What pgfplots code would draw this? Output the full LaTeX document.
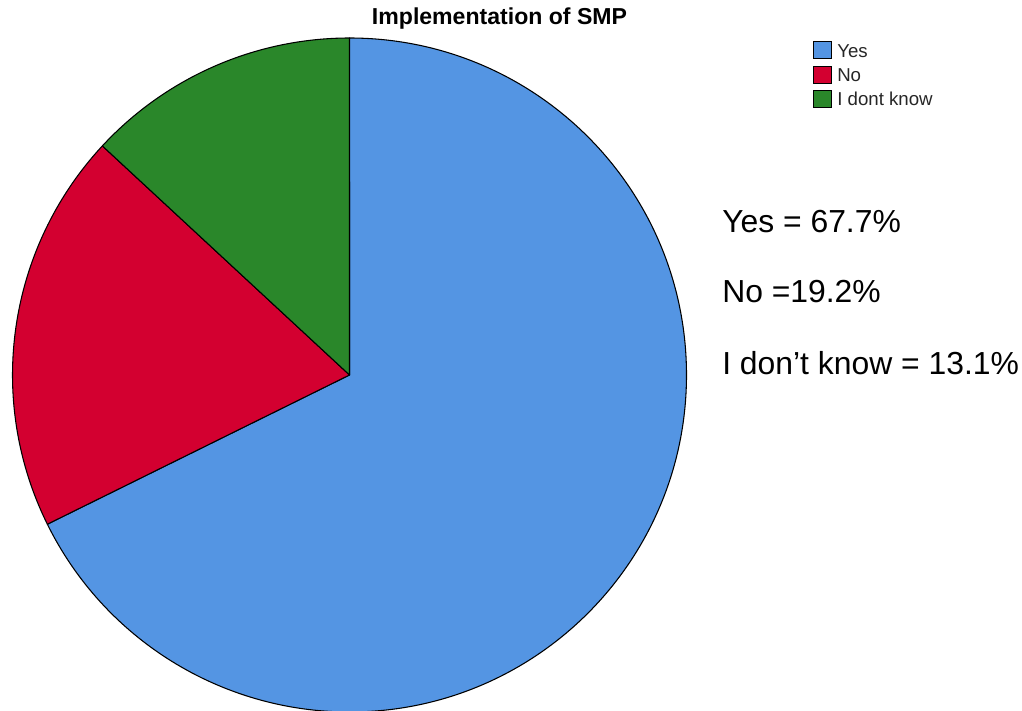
\documentclass[border=0pt]{standalone}
\usepackage{pgfplots}
\pgfplotsset{compat=1.18}
\usepackage{pgfplotstable}
\usepackage{fontspec}
\setmainfont{Liberation Sans}
\definecolor{cyes}{RGB}{84,149,227}
\definecolor{cno}{RGB}{211,0,48}
\definecolor{cidk}{RGB}{42,135,42}
\pgfplotstableread{
label value
Yes 67.7
No 19.2
Idk 13.1
}\piedata
\pgfplotstablegetelem{0}{value}\of\piedata \let\vA\pgfplotsretval
\pgfplotstablegetelem{1}{value}\of\piedata \let\vB\pgfplotsretval
\pgfplotstablegetelem{2}{value}\of\piedata \let\vC\pgfplotsretval
\pgfmathsetmacro\tot{\vA+\vB+\vC}
\pgfmathsetmacro\aA{90-\vA/\tot*360}
\pgfmathsetmacro\aB{\aA-\vB/\tot*360}
\pgfmathsetmacro\aC{\aB-\vC/\tot*360}
\begin{document}
\begin{tikzpicture}
\useasboundingbox (0,0) rectangle (766.5pt,533.25pt);
\begin{axis}[
  scale only axis, width=766.5pt, height=533.25pt,
  xmin=0, xmax=1022, ymin=0, ymax=711,
  hide axis, clip=false, anchor=south west, at={(0,0)}]
\def\R{252.75pt}
\filldraw[fill=cyes, draw=black, line width=0.8pt, line join=round]
  (axis cs:349.5,336) -- ++(90:\R) arc[start angle=90, end angle=\aA, radius=\R] -- cycle;
\filldraw[fill=cno, draw=black, line width=0.8pt, line join=round]
  (axis cs:349.5,336) -- ++(\aA:\R) arc[start angle=\aA, end angle=\aB, radius=\R] -- cycle;
\filldraw[fill=cidk, draw=black, line width=0.8pt, line join=round]
  (axis cs:349.5,336) -- ++(\aB:\R) arc[start angle=\aB, end angle=\aC, radius=\R] -- cycle;
% title
\node[anchor=base, font=\fontsize{17.3}{19}\selectfont\bfseries] at (axis cs:499.5,686) {Implementation of SMP};
% legend
\filldraw[fill=cyes, draw=black, line width=0.6pt] (axis cs:813,670) rectangle (axis cs:831,653);
\filldraw[fill=cno, draw=black, line width=0.6pt] (axis cs:813,645) rectangle (axis cs:831,628);
\filldraw[fill=cidk, draw=black, line width=0.6pt] (axis cs:813,621) rectangle (axis cs:831,604);
\node[anchor=base west, inner sep=0pt, text=black!85, font=\fontsize{14}{16}\selectfont] at (axis cs:837,653) {Yes};
\node[anchor=base west, inner sep=0pt, text=black!85, font=\fontsize{14}{16}\selectfont] at (axis cs:837,629) {No};
\node[anchor=base west, inner sep=0pt, text=black!85, font=\fontsize{14}{16}\selectfont] at (axis cs:837,605) {I dont know};
% annotations
\node[anchor=base west, inner sep=0pt, font=\fontsize{23.9}{26}\selectfont] at (axis cs:722,478) {Yes = 67.7\%};
\node[anchor=base west, inner sep=0pt, font=\fontsize{23.9}{26}\selectfont] at (axis cs:722,408) {No =19.2\%};
\node[anchor=base west, inner sep=0pt, font=\fontsize{23.9}{26}\selectfont] at (axis cs:722,336) {I don’t know = 13.1\%};
\end{axis}
\end{tikzpicture}
\end{document}
